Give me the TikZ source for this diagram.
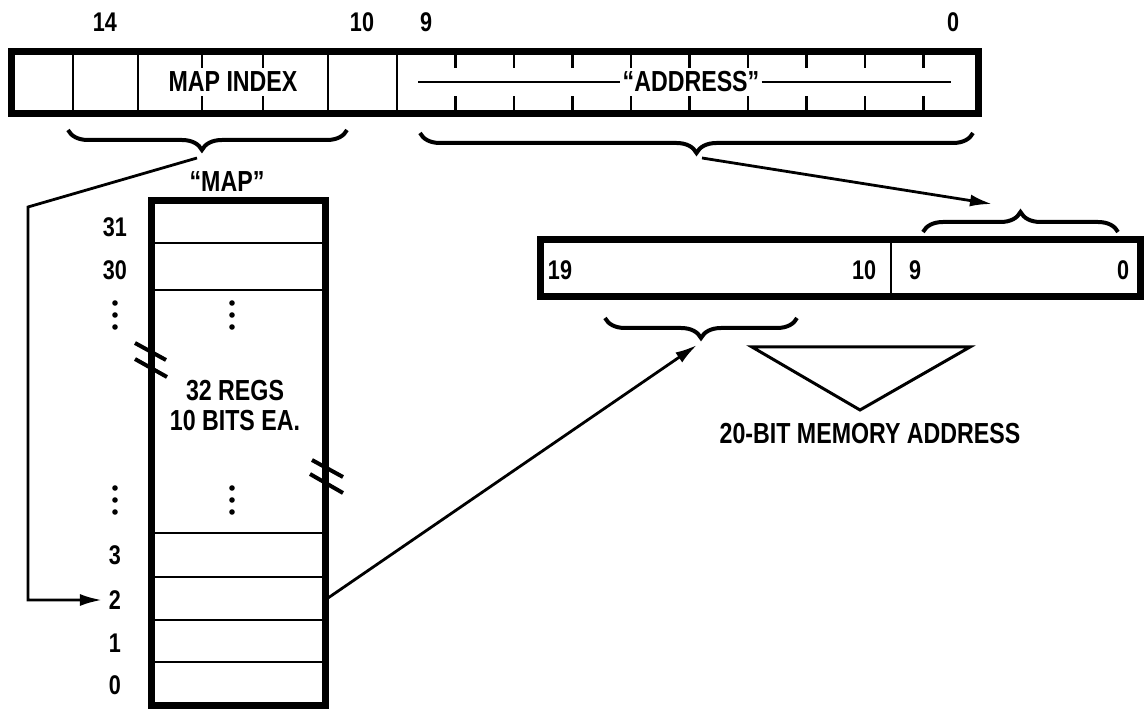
\documentclass[tikz,border=0pt]{standalone}
\usepackage{fontspec}
\setmainfont{Liberation Sans}[FakeStretch=0.8]
\usetikzlibrary{decorations.pathreplacing,arrows.meta,positioning}

\newcommand{\numfont}{\bfseries\fontsize{13.5}{13.5}\selectfont}
\newcommand{\lblfont}{\bfseries\fontsize{14.5}{15}\selectfont}

\tikzset{
  frame/.style={line width=3.5pt},
  rule/.style={line width=1.1pt},
  num/.style={font=\numfont},
  lbl/.style={font=\lblfont},
  curly/.style={decorate,decoration={brace,amplitude=10pt,aspect=#1},line width=2pt},
  ptr/.style={line width=1.4pt,-{Latex[length=11pt,width=6pt]}},
  slash/.style={line width=2pt}
}

\begin{document}
\begin{tikzpicture}[x=0.5pt,y=-0.5pt]
  \useasboundingbox (0,0) rectangle (1144,715);

  % 16-bit address word
  \draw[frame] (11.5,51.5) rectangle (978.5,113.5);
  \foreach \x in {73,138,328,397}
    \draw[rule] (\x,51.5) -- (\x,113.5);
  \foreach \x in {202,263} {
    \draw[rule] (\x,51.5) -- ++(0,17);
    \draw[rule] (\x,113.5) -- ++(0,-17);
  }
  \foreach \k in {1,...,9} {
    \draw[rule] ({397+58.5*\k},51.5) -- ++(0,17);
    \draw[rule] ({397+58.5*\k},113.5) -- ++(0,-17);
  }
  \node[num] (b14) at (105,22) {14};
  \node[num] (b10) at (362,22) {10};
  \node[num] (b9) at (426,22) {9};
  \node[num] (b0) at (953,22) {0};
  \node[lbl] (mapidx) at (233,82) {MAP INDEX};
  \node[lbl,inner sep=1pt] (addr) at (691,82) {“ADDRESS”};
  \draw[rule] (418,82) -- (addr.west);
  \draw[rule] (addr.east) -- (951,82);

  \draw[curly=0.52] (347,130) -- (68,130);
  \draw[curly=0.5] (973,133) -- (420,133);
  \coordinate (idxtip) at (197,158);
  \coordinate (addrtip) at (702,158);

  % map registers
  \node[lbl] (maplbl) at (227,182) {“MAP”};
  \draw[frame] (151,201) rectangle (325,705);
  \foreach \y in {243,290,533,577,620,662}
    \draw[rule] (151,\y) -- (325,\y);
  \node[num] (r31) at (115,227) {31};
  \node[num] (r30) at (115,270) {30};
  \node[num] (r3) at (115,555) {3};
  \node[num] (r2) at (115,600) {2};
  \node[num] (r1) at (115,643) {1};
  \node[num] (r0) at (115,685) {0};
  \foreach \x in {115,232}
    \foreach \y in {303,315,327,488,500,512}
      \fill (\x,\y) circle (1.4pt);
  \node[lbl,align=center] (regs) at (235,406) {32 REGS\\10 BITS EA.};
  \draw[slash] (135,343) -- (166,360);
  \draw[slash] (135,359) -- (167,377);
  \draw[slash] (312,460) -- (343,477);
  \draw[slash] (310,474) -- (343,493);
  \coordinate (bend) at (28,207);
  \coordinate (m2) at (328,598);

  % 20-bit memory address
  \draw[frame] (540.5,239.5) rectangle (1140.5,296.5);
  \draw[rule] (891,239.5) -- (891,296.5);
  \node[num] (c19) at (560,270) {19};
  \node[num] (c10) at (864,270) {10};
  \node[num] (c9) at (915,270) {9};
  \node[num] (c0) at (1123,270) {0};
  \draw[curly=0.5] (923,232) -- (1118,232);
  \draw[curly=0.5] (797,318) -- (605,318);
  \coordinate (lowtip) at (992,204);
  \coordinate (hitip) at (697,345);
  \draw[line width=1.5pt] (752,347) -- (970,347) -- (860,410) -- cycle;
  \node[lbl] (memaddr) at (870,434) {20-BIT MEMORY ADDRESS};

  \draw[ptr] (idxtip) -- (bend) |- (r2.west);
  \draw[ptr] (addrtip) -- (lowtip);
  \draw[ptr] (m2) -- (hitip);
\end{tikzpicture}
\end{document}
